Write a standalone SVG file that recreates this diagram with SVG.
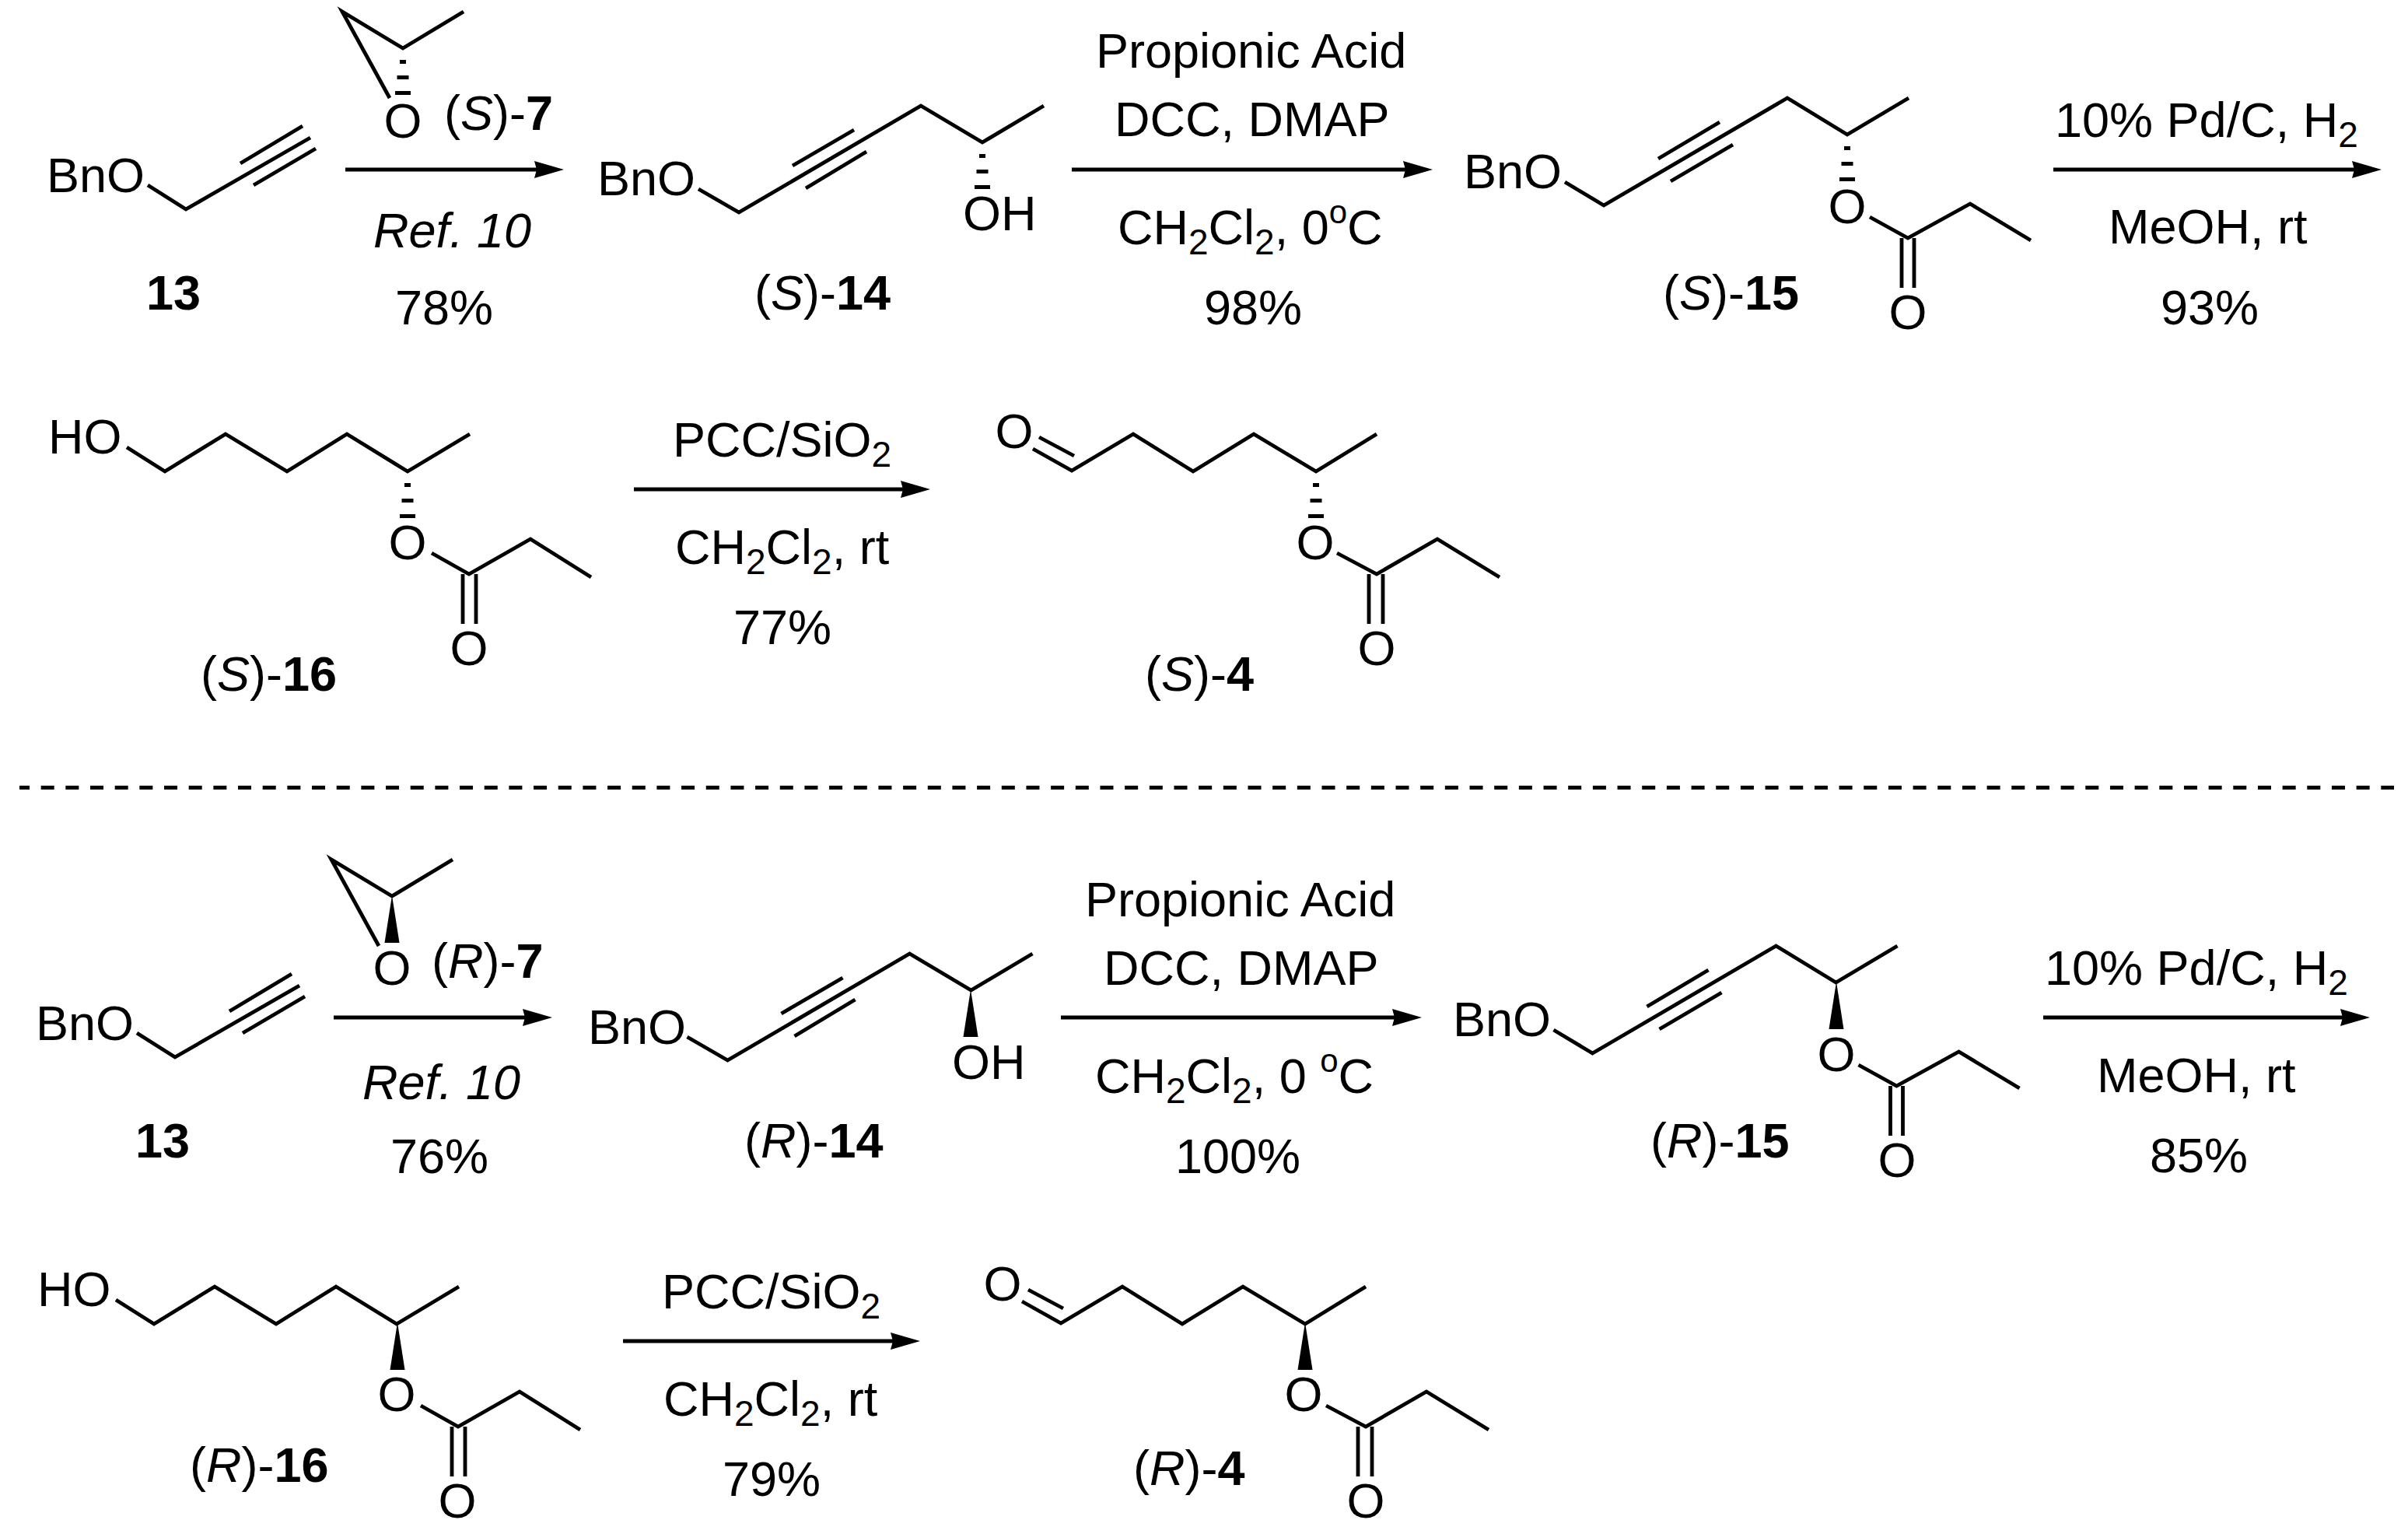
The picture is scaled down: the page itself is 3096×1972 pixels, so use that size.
<svg xmlns="http://www.w3.org/2000/svg" width="3096" height="1972" viewBox="0 0 3096 1972">
<style>
.b{fill:none;stroke:#000;stroke-width:4.8}
.k{fill:#000;stroke:none}
.a{fill:none;stroke:#000;stroke-width:5;marker-end:url(#head)}
.d{fill:none;stroke:#000;stroke-width:5;stroke-dasharray:17 14.67;stroke-dashoffset:4}
text{font-family:"Liberation Sans",Arial,sans-serif;font-size:63px;fill:#000}
.i{font-style:italic}
.w{font-weight:bold}
.s{font-size:46px}
.u{font-size:42px}
</style>
<defs>
<marker id="head" markerUnits="userSpaceOnUse" markerWidth="40" markerHeight="26" refX="16" refY="12" orient="auto"><path d="M0 1L38 12L0 23L3 12Z" fill="#000"/></marker>
<g id="hash"><rect class="k" x="-4" y="15" width="8" height="5"/><rect class="k" x="-7.5" y="35" width="15" height="5"/><rect class="k" x="-10" y="55" width="20" height="5"/></g>
<polygon id="wedge" class="k" points="0,0 9.5,61 -9.5,61"/>
<path id="sk7" class="b" d="M596 15L518 62L440 15L501 126"/>
<path id="sk13" class="b" d="M190 238L239 269L399 177M309 210L389 162M326 238L406 191"/>
<path id="sk14" class="b" d="M898 243L950 273L1184 136L1263 183L1342 136M1019 213L1098 167M1036 242L1114 195"/>
<path id="sk15" class="b" d="M2012 234L2062 264L2298 126L2375 173L2454 126M2132 204L2211 157M2148 233L2228 186M2404 279L2453 306L2533 262L2611 309M2445 306L2445 370M2461 306L2461 370"/>
<path id="sk16" class="b" d="M163 575L212 606L290 558L369 606L446 558L524 606L604 558M555 711L603 738L682 693L760 742M595 738L595 802M612 738L612 802"/>
<path id="sk4" class="b" d="M1328 577L1378 605L1457 558L1534 606L1612 558L1692 606L1770 558M1336 562L1381 586M1719 711L1770 738L1848 693L1928 742M1760 738L1760 802M1778 738L1778 802"/>
</defs>
<g id="connectors">
<path class="a" d="M444 218H703"/>
<path class="a" d="M1378 218H1820"/>
<path class="a" d="M2640 218H3040"/>
<path class="a" d="M815 629H1174"/>
<path class="d" d="M25 1012.5H3078"/>
<path class="a" d="M429 1308H688"/>
<path class="a" d="M1364 1308H1806"/>
<path class="a" d="M2627 1308H3025"/>
<path class="a" d="M801 1724H1161"/>
</g>
<g id="top-7"><use href="#sk7"/><use href="#hash" x="518" y="62"/><text x="493.5" y="177">O</text><text x="571" y="167">(<tspan class="i">S</tspan>)-<tspan class="w">7</tspan></text></g>
<g id="top-13"><use href="#sk13"/><text x="60" y="247">BnO</text><text x="188" y="398" class="w">13</text></g>
<g id="top-14"><use href="#sk14"/><use href="#hash" x="1263" y="183"/><text x="768" y="251">BnO</text><text x="1238" y="296">OH</text><text x="970" y="398">(<tspan class="i">S</tspan>)-<tspan class="w">14</tspan></text></g>
<g id="top-15"><use href="#sk15"/><use href="#hash" x="2375" y="173"/><text x="1882" y="242">BnO</text><text x="2350.5" y="287">O</text><text x="2428.5" y="423">O</text><text x="2138" y="398">(<tspan class="i">S</tspan>)-<tspan class="w">15</tspan></text></g>
<g id="top-16"><use href="#sk16"/><use href="#hash" x="524" y="606"/><text x="62" y="583">HO</text><text x="499.5" y="719">O</text><text x="578.5" y="855">O</text><text x="258" y="888">(<tspan class="i">S</tspan>)-<tspan class="w">16</tspan></text></g>
<g id="top-4"><use href="#sk4"/><use href="#hash" x="1692" y="606"/><text x="1279.5" y="576">O</text><text x="1666.5" y="719">O</text><text x="1745.5" y="855">O</text><text x="1472" y="888">(<tspan class="i">S</tspan>)-<tspan class="w">4</tspan></text></g>
<g id="top-conditions">
<text x="480" y="318" class="i">Ref. 10</text><text x="508" y="417">78%</text>
<text x="1409" y="87">Propionic Acid</text><text x="1433" y="175">DCC, DMAP</text><text x="1437" y="314">CH<tspan class="s" dy="13">2</tspan><tspan dy="-13">Cl</tspan><tspan class="s" dy="13">2</tspan><tspan dy="-13">, 0</tspan><tspan class="u" dy="-27">o</tspan><tspan dy="27">C</tspan></text><text x="1548" y="417">98%</text>
<text x="2642" y="176">10% Pd/C, H<tspan class="s" dy="13">2</tspan></text><text x="2711" y="313">MeOH, rt</text><text x="2778" y="417">93%</text>
<text x="865" y="587">PCC/SiO<tspan class="s" dy="13">2</tspan></text><text x="868" y="725">CH<tspan class="s" dy="13">2</tspan><tspan dy="-13">Cl</tspan><tspan class="s" dy="13">2</tspan><tspan dy="-13">, rt</tspan></text><text x="943" y="828">77%</text>
</g>
<g id="bottom-7"><use href="#sk7" x="-14" y="1090"/><use href="#wedge" x="504" y="1151"/><text x="479.5" y="1266">O</text><text x="555" y="1257">(<tspan class="i">R</tspan>)-<tspan class="w">7</tspan></text></g>
<g id="bottom-13"><use href="#sk13" x="-14" y="1090"/><text x="46" y="1337">BnO</text><text x="174" y="1488" class="w">13</text></g>
<g id="bottom-14"><use href="#sk14" x="-14.5" y="1090"/><use href="#wedge" x="1248" y="1272"/><text x="756" y="1342">BnO</text><text x="1224" y="1387">OH</text><text x="957" y="1488">(<tspan class="i">R</tspan>)-<tspan class="w">14</tspan></text></g>
<g id="bottom-15"><use href="#sk15" x="-14.5" y="1090"/><use href="#wedge" x="2361" y="1262"/><text x="1868" y="1332">BnO</text><text x="2336.5" y="1377">O</text><text x="2414.5" y="1513">O</text><text x="2122" y="1488">(<tspan class="i">R</tspan>)-<tspan class="w">15</tspan></text></g>
<g id="bottom-16"><use href="#sk16" x="-14" y="1096"/><use href="#wedge" x="511" y="1700"/><text x="48" y="1679">HO</text><text x="485.5" y="1814">O</text><text x="563.5" y="1951">O</text><text x="244" y="1905">(<tspan class="i">R</tspan>)-<tspan class="w">16</tspan></text></g>
<g id="bottom-4"><use href="#sk4" x="-14" y="1096"/><use href="#wedge" x="1678" y="1700"/><text x="1264.5" y="1672">O</text><text x="1651.5" y="1814">O</text><text x="1731.5" y="1951">O</text><text x="1457" y="1909">(<tspan class="i">R</tspan>)-<tspan class="w">4</tspan></text></g>
<g id="bottom-conditions">
<text x="466" y="1413" class="i">Ref. 10</text><text x="502" y="1508">76%</text>
<text x="1395" y="1178">Propionic Acid</text><text x="1419" y="1266">DCC, DMAP</text><text x="1408" y="1405">CH<tspan class="s" dy="13">2</tspan><tspan dy="-13">Cl</tspan><tspan class="s" dy="13">2</tspan><tspan dy="-13">, 0 </tspan><tspan class="u" dy="-27">o</tspan><tspan dy="27">C</tspan></text><text x="1511" y="1508">100%</text>
<text x="2629" y="1266">10% Pd/C, H<tspan class="s" dy="13">2</tspan></text><text x="2696" y="1404">MeOH, rt</text><text x="2764" y="1507">85%</text>
<text x="851" y="1682">PCC/SiO<tspan class="s" dy="13">2</tspan></text><text x="853" y="1820">CH<tspan class="s" dy="13">2</tspan><tspan dy="-13">Cl</tspan><tspan class="s" dy="13">2</tspan><tspan dy="-13">, rt</tspan></text><text x="929" y="1923">79%</text>
</g>
</svg>
